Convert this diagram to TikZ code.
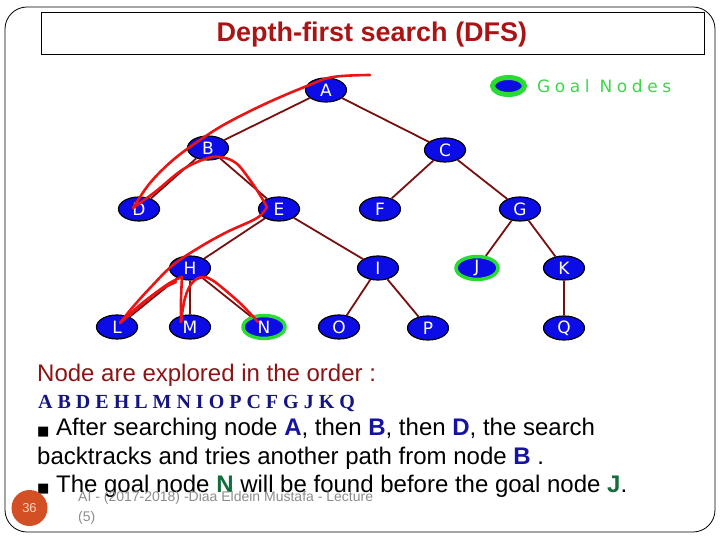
\documentclass[tikz,border=0pt]{standalone}
\usepackage{fontspec}
\setmainfont{Liberation Sans}
\newfontfamily\serifb{Liberation Serif}
\newfontfamily\dejavu{DejaVu Sans}
\newfontfamily\goalfont[LetterSpace=27]{DejaVu Sans}
\usetikzlibrary{shapes.geometric}
\definecolor{nodeblue}{RGB}{12,12,230}
\definecolor{edgered}{RGB}{120,16,16}
\definecolor{pathred}{RGB}{235,20,20}
\definecolor{goalgreen}{RGB}{40,220,50}
\definecolor{legendgreen}{RGB}{60,215,70}
\definecolor{titlered}{RGB}{170,20,20}
\definecolor{orderred}{RGB}{140,20,20}
\definecolor{darkblue}{RGB}{20,20,130}
\definecolor{boldblue}{RGB}{20,20,160}
\definecolor{dkgreen}{RGB}{20,110,60}
\definecolor{footgray}{RGB}{140,140,140}
\definecolor{pageorange}{RGB}{210,80,35}
\definecolor{pagenum}{RGB}{250,215,190}
\tikzset{
  tnode/.style={ellipse, draw=black, line width=1.2pt, fill=nodeblue,
    minimum width=41pt, minimum height=24pt, inner sep=0pt, text=white,
    font=\dejavu\fontsize{17}{17}\selectfont},
  goalnode/.style={tnode, draw=goalgreen, line width=3.5pt,
    minimum width=42pt, minimum height=23pt},
  edge/.style={draw=edgered, line width=1.8pt},
  redpath/.style={draw=pathred, line width=2.6pt, line join=round, line cap=round},
  txt/.style={anchor=base west, inner sep=0pt, font=\fontsize{24}{24}\selectfont},
}
\begin{document}
\begin{tikzpicture}[x=1pt,y=-1pt]
\useasboundingbox (0,0) rectangle (720,540);
% frames
\draw[line width=0.8pt, rounded corners=22pt] (5,7) rectangle (715,532);
\node[draw, line width=0.8pt, minimum width=663pt, minimum height=42pt, inner sep=0pt] (titlebox) at (372.5,33) {};
\node[anchor=base, inner sep=0pt, font=\bfseries\fontsize{27}{27}\selectfont, text=titlered] (title) at (372,42) {Depth-first search (DFS)};
% legend
\node[goalnode, minimum width=32pt, minimum height=17pt, line width=5pt] (legend) at (508.5,86) {};
\node[anchor=west, inner sep=0pt, text=legendgreen, font=\goalfont\fontsize{17}{17}\selectfont] (legendtxt) at (537,86) {Goal Nodes};
% tree nodes
\node[tnode] (A) at (326,90) {A};
\node[tnode] (B) at (208,148) {B};
\node[tnode] (C) at (445,150) {C};
\node[tnode] (D) at (139,209) {D};
\node[tnode] (E) at (279,209) {E};
\node[tnode] (F) at (380,209) {F};
\node[tnode] (G) at (520,209) {G};
\node[tnode] (H) at (190,268) {H};
\node[tnode] (I) at (378,268) {I};
\node[goalnode] (J) at (477,268) {J};
\node[tnode] (K) at (564,268) {K};
\node[tnode] (L) at (117,327) {L};
\node[tnode] (M) at (190,327) {M};
\node[goalnode] (N) at (264,327) {N};
\node[tnode] (O) at (339,327) {O};
\node[tnode] (P) at (428,328) {P};
\node[tnode] (Q) at (564,328) {Q};
% edges
\foreach \a/\b in {A/B,A/C,B/D,B/E,C/F,C/G,E/H,E/I,G/J,G/K,H/L,H/M,H/N,I/O,I/P,K/Q}
  \draw[edge] (\a) -- (\b);
% red traversal path
\draw[redpath] plot[smooth, tension=0.6] coordinates {(370,75) (333,77) (307,86) (267,103) (227,123) (200,140) (173,160) (150,183) (133,208)};
\draw[redpath] plot[smooth, tension=0.6] coordinates {(133,208) (155,192) (182,170) (205,159) (220,157) (236,163) (250,180) (260,195) (267,207)};
\draw[redpath] plot[smooth, tension=0.6] coordinates {(267,207) (257,218) (227,232) (200,247) (173,265) (150,288) (132,308) (120,323)};
\draw[redpath] plot[smooth, tension=0.6] coordinates {(120,323) (147,300) (168,284) (182,277)};
\draw[redpath] plot[smooth, tension=0.6] coordinates {(120,323) (140,305) (160,290) (176,282)};
\draw[redpath] plot[smooth, tension=0.6] coordinates {(182,277) (181,300) (181,322)};
\draw[redpath] plot[smooth, tension=0.6] coordinates {(181,322) (185,298) (192,283) (202,277) (212,280) (225,290) (242,305) (258,322)};
% text
\node[txt, text=orderred] (l1) at (37,381) {Node are explored in the order :};
\node[txt, text=darkblue, font=\serifb\bfseries\fontsize{20}{20}\selectfont] (l2) at (38,408) {A B D E H L M N I O P C F G J K Q};
\node[txt] (l3) at (37,435) {{\dejavu\fontsize{13}{13}\selectfont ■} After searching node \textcolor{boldblue}{\textbf{A}}, then \textcolor{boldblue}{\textbf{B}}, then \textcolor{boldblue}{\textbf{D}}, the search};
\node[txt] (l4) at (37,464) {backtracks and tries another path from node \textcolor{boldblue}{\textbf{B}} .};
\node[txt] (l5) at (37,492) {{\dejavu\fontsize{13}{13}\selectfont ■} The goal node \textcolor{dkgreen}{\textbf{N}} will be found before the goal node \textcolor{dkgreen}{\textbf{J}}.};
% footer
\node[circle, fill=pageorange, minimum size=36pt, inner sep=0pt, text=pagenum, font=\fontsize{13}{13}\selectfont] (page) at (29.5,508) {36};
\node[anchor=base west, inner sep=0pt, text=footgray, font=\fontsize{14}{14}\selectfont] (foot1) at (78,501) {AI - (2017-2018) -Diaa Eldein Mustafa - Lecture};
\node[anchor=base west, inner sep=0pt, text=footgray, font=\fontsize{14}{14}\selectfont] (foot2) at (78,521) {(5)};
\end{tikzpicture}
\end{document}
